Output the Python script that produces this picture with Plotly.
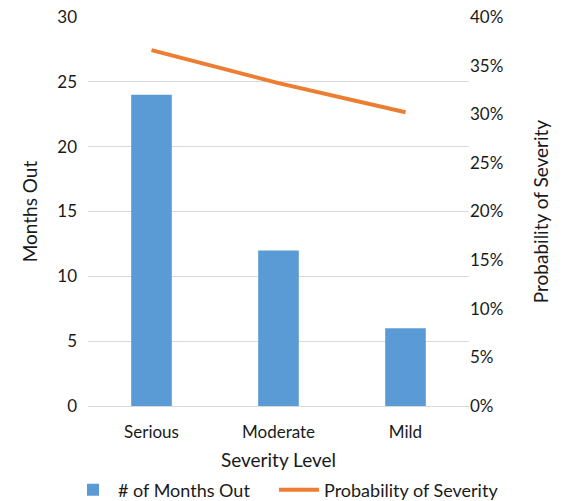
import plotly.graph_objects as go

# Severity categories and series
categories = ["Serious", "Moderate", "Mild"]
months_out = [24, 12, 6]
probability = [0.366, 0.332, 0.302]

font_family = "Lato, 'Open Sans', sans-serif"
text_color = "#1a1a1a"
grid_color = "#d9d9d9"

fig = go.Figure()

fig.add_trace(go.Bar(
    x=categories,
    y=months_out,
    name="# of Months Out",
    marker=dict(color="#5b9bd5", line=dict(width=0)),
    width=0.32,
    yaxis="y",
    legend="legend",
))

fig.add_trace(go.Scatter(
    x=categories,
    y=probability,
    name="Probability of Severity",
    mode="lines",
    line=dict(color="#ed7d31", width=4),
    yaxis="y2",
    legend="legend2",
))

legend_style = dict(
    orientation="h",
    xanchor="left",
    xref="container",
    y=0.022,
    yanchor="middle",
    yref="container",
    font=dict(size=18),
    itemwidth=40,
    bgcolor="rgba(0,0,0,0)",
)

fig.update_layout(
    width=567,
    height=501,
    margin=dict(l=88, r=98, t=17, b=95, autoexpand=False),
    paper_bgcolor="white",
    plot_bgcolor="white",
    font=dict(family=font_family, size=17, color=text_color),
    xaxis=dict(
        title=dict(text="Severity Level", font=dict(size=19), standoff=26),
        showline=True,
        linecolor=grid_color,
        linewidth=1,
        ticks="",
        ticklabelstandoff=11,
        tickfont=dict(size=17),
        automargin=False,
    ),
    yaxis=dict(
        title=dict(text="Months Out", font=dict(size=19), standoff=14),
        range=[0, 30],
        dtick=5,
        showgrid=True,
        gridcolor=grid_color,
        gridwidth=1,
        zeroline=False,
        showline=False,
        ticks="",
        ticklabelstandoff=10,
        tickfont=dict(size=17),
        automargin=False,
    ),
    yaxis2=dict(
        title=dict(text="Probability of Severity", font=dict(size=19), standoff=32),
        overlaying="y",
        side="right",
        range=[0, 0.4],
        dtick=0.05,
        tickformat=".0%",
        showgrid=False,
        zeroline=False,
        showline=False,
        ticks="",
        tickfont=dict(size=17),
        automargin=False,
    ),
    legend=dict(legend_style, x=68 / 567),
    legend2=dict(legend_style, x=274 / 567),
    bargap=0.68,
    showlegend=True,
)

fig.write_html("out.html")
